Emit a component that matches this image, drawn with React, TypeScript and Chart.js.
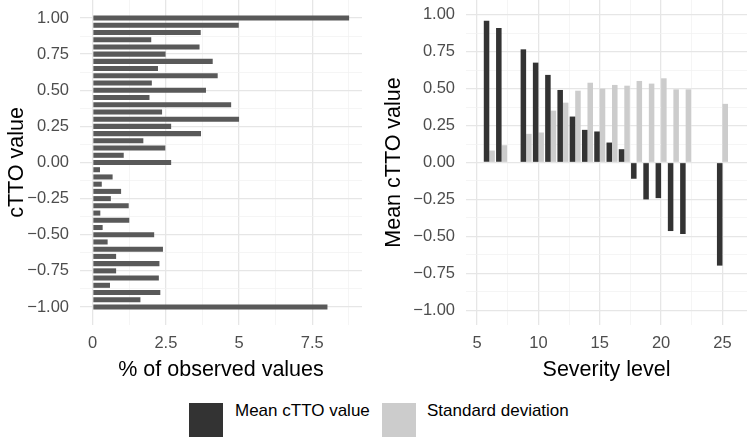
import React, { useEffect, useRef } from 'react';
import { Chart, registerables } from 'chart.js';

Chart.register(...registerables);

// ---------- Data ----------
const cttoValues = [
  1.0, 0.95, 0.9, 0.85, 0.8, 0.75, 0.7, 0.65, 0.6, 0.55, 0.5, 0.45, 0.4, 0.35, 0.3, 0.25, 0.2, 0.15, 0.1, 0.05, 0.0,
  -0.05, -0.1, -0.15, -0.2, -0.25, -0.3, -0.35, -0.4, -0.45, -0.5, -0.55, -0.6, -0.65, -0.7, -0.75, -0.8, -0.85, -0.9, -0.95, -1.0,
];
const observedPct = [
  8.76, 4.99, 3.69, 2.0, 3.65, 2.49, 4.1, 2.23, 4.27, 2.02, 3.87, 1.94, 4.73, 2.37, 5.0, 2.68, 3.7, 1.73, 2.48, 1.06, 2.68,
  0.25, 0.68, 0.31, 0.97, 0.62, 1.23, 0.26, 1.25, 0.34, 2.1, 0.51, 2.4, 0.8, 2.28, 0.8, 2.26, 0.59, 2.31, 1.63, 8.02,
];

const severityLevels = [6, 7, 9, 10, 11, 12, 13, 14, 15, 16, 17, 18, 19, 20, 21, 22, 25];
const meanCtto = [0.96, 0.91, 0.766, 0.676, 0.593, 0.491, 0.311, 0.221, 0.21, 0.135, 0.09, -0.11, -0.25, -0.241, -0.464, -0.484, -0.698];
const sdCtto = [0.081, 0.117, 0.194, 0.203, 0.351, 0.405, 0.486, 0.54, 0.5, 0.525, 0.52, 0.552, 0.534, 0.57, 0.495, 0.495, 0.397];

// Tick positions (major + minor grid)
const pctTicks = [0, 1.25, 2.5, 3.75, 5, 6.25, 7.5, 8.75];
const pctLabels = [0, 2.5, 5, 7.5];
const valueTicks = [-1, -0.875, -0.75, -0.625, -0.5, -0.375, -0.25, -0.125, 0, 0.125, 0.25, 0.375, 0.5, 0.625, 0.75, 0.875, 1];
const valueLabels = [-1, -0.75, -0.5, -0.25, 0, 0.25, 0.5, 0.75, 1];
const severityTicks = [5, 7.5, 10, 12.5, 15, 17.5, 20, 22.5, 25];
const severityLabels = [5, 10, 15, 20, 25];

// ---------- Styles ----------
const FONT = "'Liberation Sans', Arial, Helvetica, sans-serif";
const TICK_FONT = { family: FONT, size: 16.5 };
const TITLE_FONT = { family: FONT, size: 21.5 };
const TICK_COLOR = '#4d4d4d';
const MAJOR_GRID = '#e6e6e6';
const MINOR_GRID = '#f0f0f0';

const near = (a: number, b: number) => Math.abs(a - b) < 1e-6;
const inList = (v: number, list: number[]) => list.some((x) => near(x, v));
const fmtValue = (v: number) => {
  const s = Math.abs(v).toFixed(2);
  return v < -1e-9 ? '\u2212' + s : s;
};

function gridFor(labels: number[]) {
  return {
    drawTicks: false,
    tickLength: 0,
    color: (ctx: any) => (ctx.tick && inList(ctx.tick.value, labels) ? MAJOR_GRID : MINOR_GRID),
    lineWidth: (ctx: any) => (ctx.tick && inList(ctx.tick.value, labels) ? 1.3 : 0.7),
  };
}

function setTicks(values: number[]) {
  return (scale: any) => {
    scale.ticks = values.map((v) => ({ value: v }));
  };
}

function fixSize(kind: 'width' | 'height', size: number) {
  return (scale: any) => {
    scale[kind] = size;
    scale.paddingTop = 0;
    scale.paddingBottom = 0;
    scale.paddingLeft = 0;
    scale.paddingRight = 0;
  };
}

function LeftChart() {
  const ref = useRef<HTMLCanvasElement | null>(null);
  useEffect(() => {
    if (!ref.current) return;
    const chart = new Chart(ref.current, {
      type: 'bar',
      data: {
        datasets: [
          {
            label: '% of observed values',
            data: cttoValues.map((v, i) => ({ x: observedPct[i], y: v })),
            backgroundColor: '#595959',
            borderWidth: 0,
            barPercentage: 0.7,
            categoryPercentage: 1,
          },
        ],
      },
      options: {
        animation: false,
        responsive: false,
        indexAxis: 'y',
        layout: { padding: { left: 0, right: 10, top: 0, bottom: 0 } },
        plugins: { legend: { display: false }, tooltip: { enabled: false } },
        scales: {
          x: {
            type: 'linear',
            min: -0.434,
            max: 9.2,
            offset: false,
            border: { display: false },
            grid: gridFor(pctLabels),
            afterBuildTicks: setTicks(pctTicks),
            afterFit: fixSize('height', 70),
            ticks: {
              autoSkip: false,
              maxRotation: 0,
              padding: 8.5,
              color: TICK_COLOR,
              font: TICK_FONT,
              callback: (v: any) => (inList(Number(v), pctLabels) ? String(Number(v)) : ''),
            },
            title: {
              display: true,
              text: '% of observed values',
              color: '#000000',
              font: TITLE_FONT,
              padding: { top: 0, bottom: 12.1 },
            },
          },
          y: {
            type: 'linear',
            min: -1.1247,
            max: 1.1247,
            offset: false,
            border: { display: false },
            grid: { ...gridFor(valueLabels), offset: false },
            afterBuildTicks: setTicks(valueTicks),
            afterFit: fixSize('width', 80),
            ticks: {
              autoSkip: false,
              padding: 11,
              color: TICK_COLOR,
              font: TICK_FONT,
              callback: (v: any) => (inList(Number(v), valueLabels) ? fmtValue(Number(v)) : ''),
            },
            title: {
              display: true,
              text: 'cTTO value',
              color: '#000000',
              font: TITLE_FONT,
              padding: { top: 4.6, bottom: 0 },
            },
          },
        },
      },
    } as any);
    return () => chart.destroy();
  }, []);
  return <canvas ref={ref} width={372} height={395} style={{ position: 'absolute', left: 0, top: 0 }} />;
}

function RightChart() {
  const ref = useRef<HTMLCanvasElement | null>(null);
  useEffect(() => {
    if (!ref.current) return;
    const chart = new Chart(ref.current, {
      type: 'bar',
      data: {
        datasets: [
          {
            label: 'Mean cTTO value',
            data: severityLevels.map((s, i) => ({ x: s, y: meanCtto[i] })),
            backgroundColor: '#333333',
            borderWidth: 0,
            barPercentage: 1,
            categoryPercentage: 0.9,
          },
          {
            label: 'Standard deviation',
            data: severityLevels.map((s, i) => ({ x: s, y: sdCtto[i] })),
            backgroundColor: '#cccccc',
            borderWidth: 0,
            barPercentage: 1,
            categoryPercentage: 0.9,
          },
        ],
      },
      options: {
        animation: false,
        responsive: false,
        layout: { padding: { left: 0, right: 0, top: 0, bottom: 0 } },
        plugins: { legend: { display: false }, tooltip: { enabled: false } },
        scales: {
          x: {
            type: 'linear',
            min: 4.1,
            max: 27.0,
            offset: false,
            border: { display: false },
            grid: { ...gridFor(severityLabels), offset: false },
            afterBuildTicks: setTicks(severityTicks),
            afterFit: fixSize('height', 70),
            ticks: {
              autoSkip: false,
              maxRotation: 0,
              padding: 8.5,
              color: TICK_COLOR,
              font: TICK_FONT,
              callback: (v: any) => (inList(Number(v), severityLabels) ? String(Number(v)) : ''),
            },
            title: {
              display: true,
              text: 'Severity level',
              color: '#000000',
              font: TITLE_FONT,
              padding: { top: 0, bottom: 12.1 },
            },
          },
          y: {
            type: 'linear',
            min: -1.1,
            max: 1.1,
            offset: false,
            border: { display: false },
            grid: gridFor(valueLabels),
            afterBuildTicks: setTicks(valueTicks),
            afterFit: fixSize('width', 94),
            ticks: {
              autoSkip: false,
              padding: 11,
              color: TICK_COLOR,
              font: TICK_FONT,
              callback: (v: any) => (inList(Number(v), valueLabels) ? fmtValue(Number(v)) : ''),
            },
            title: {
              display: true,
              text: 'Mean cTTO value',
              color: '#000000',
              font: TITLE_FONT,
              padding: { top: 9.3, bottom: 0 },
            },
          },
        },
      },
    } as any);
    return () => chart.destroy();
  }, []);
  return <canvas ref={ref} width={375} height={395} style={{ position: 'absolute', left: 372, top: 0 }} />;
}

const legendItems = [
  { label: 'Mean cTTO value', color: '#333333', boxLeft: 189, textLeft: 235 },
  { label: 'Standard deviation', color: '#cccccc', boxLeft: 382, textLeft: 427 },
];

export default function App() {
  return (
    <div
      style={{
        position: 'fixed',
        left: 0,
        top: 0,
        width: 747,
        height: 437,
        overflow: 'hidden',
        background: '#ffffff',
      }}
    >
      <LeftChart />
      <RightChart />
      {legendItems.map((it) => (
        <React.Fragment key={it.label}>
          <div
            style={{
              position: 'absolute',
              left: it.boxLeft,
              top: 403,
              width: 34,
              height: 34,
              background: it.color,
            }}
          />
          <div
            style={{
              position: 'absolute',
              left: it.textLeft,
              top: 402,
              fontFamily: FONT,
              fontSize: 17,
              lineHeight: '17px',
              color: '#000000',
              whiteSpace: 'nowrap',
            }}
          >
            {it.label}
          </div>
        </React.Fragment>
      ))}
    </div>
  );
}
